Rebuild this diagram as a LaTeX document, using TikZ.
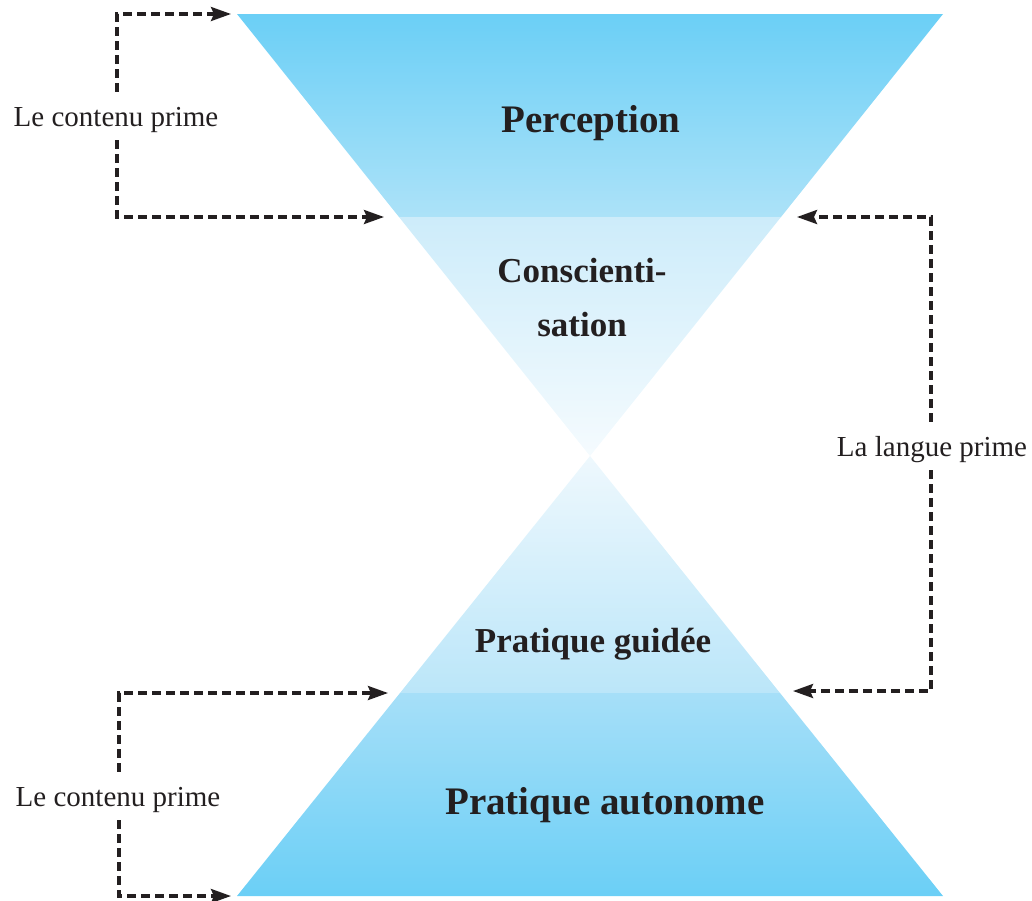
\documentclass[tikz,border=0pt]{standalone}
\usepackage{fontspec}
\setmainfont{Liberation Serif}
\usetikzlibrary{arrows.meta}
\definecolor{txt}{HTML}{231F20}
\definecolor{cA}{HTML}{6BCFF6}
\definecolor{cB}{HTML}{ACE2F8}
\definecolor{cC}{HTML}{CDECFA}
\definecolor{cD}{HTML}{F5FBFE}
\definecolor{cE}{HTML}{EEF8FD}
\definecolor{cF}{HTML}{BBE6F9}
\definecolor{cG}{HTML}{A6DFF8}
\begin{document}
\begin{tikzpicture}[x=1pt,y=-1pt,
  stagebig/.style={anchor=base,text=txt,font=\fontsize{39}{44}\selectfont\bfseries,inner sep=0pt},
  stagesmall/.style={anchor=base,text=txt,font=\fontsize{35}{54}\selectfont\bfseries,inner sep=0pt,align=center},
  primelbl/.style={anchor=base,text=txt,font=\fontsize{29}{34}\selectfont,text height=22pt,text depth=2pt,inner xsep=0pt,inner ysep=12pt},
  dasharrow/.style={draw=txt,line width=3.2pt,dash pattern=on 9pt off 5pt,-{Stealth[length=20pt,width=14pt,inset=3pt]}}]
\useasboundingbox (0,0) rectangle (1032,900);
% geometry
\coordinate (TL) at (237,14);
\coordinate (TR) at (943,14);
\coordinate (UL) at (399,217);
\coordinate (UR) at (781,217);
\coordinate (MID) at (590,456);
\coordinate (LL) at (400,693);
\coordinate (LR) at (780,693);
\coordinate (BL) at (237,896);
\coordinate (BR) at (943,896);
% shapes
\shade[top color=cA,bottom color=cB] (TL) -- (TR) -- (UR) -- (UL) -- cycle;
\shade[top color=cC,bottom color=cD] (UL) -- (UR) -- (MID) -- cycle;
\shade[top color=cE,bottom color=cF] (MID) -- (LR) -- (LL) -- cycle;
\shade[top color=cG,bottom color=cA] (LL) -- (LR) -- (BR) -- (BL) -- cycle;
% stage texts
\node[stagebig] (perc) at (591,132) {Perception};
\node[stagesmall] (consc) at (582,282) {Conscienti-};
\node[stagesmall] (consc2) at (582,336) {sation};
\node[stagesmall] (guid) at (593,652) {Pratique guidée};
\node[stagebig] (auto) at (605,814) {Pratique autonome};
% labels
\node[primelbl] (lc1) at (116,126) {Le contenu prime};
\node[primelbl] (lp) at (932,456) {La langue prime};
\node[primelbl] (lc2) at (118,806) {Le contenu prime};
% arrow targets and corners
\coordinate (v1) at (117,14);
\coordinate (a1) at (231,14);
\coordinate (a2) at (384,217);
\coordinate (v2) at (931,217);
\coordinate (a3) at (797,217);
\coordinate (a4) at (793,691);
\coordinate (v3) at (119,693);
\coordinate (a5) at (388,693);
\coordinate (a6) at (231,896);
% connectors
\draw[dasharrow] (lc1.north -| v1) -- (v1) -- (a1);
\draw[dasharrow] (lc1.south -| v1) |- (a2);
\draw[dasharrow] (lp.north -| v2) -- (v2) -- (a3);
\draw[dasharrow] (lp.south -| v2) |- (a4);
\draw[dasharrow] (lc2.north -| v3) -- (v3) -- (a5);
\draw[dasharrow] (lc2.south -| v3) |- (a6);
\end{tikzpicture}
\end{document}
